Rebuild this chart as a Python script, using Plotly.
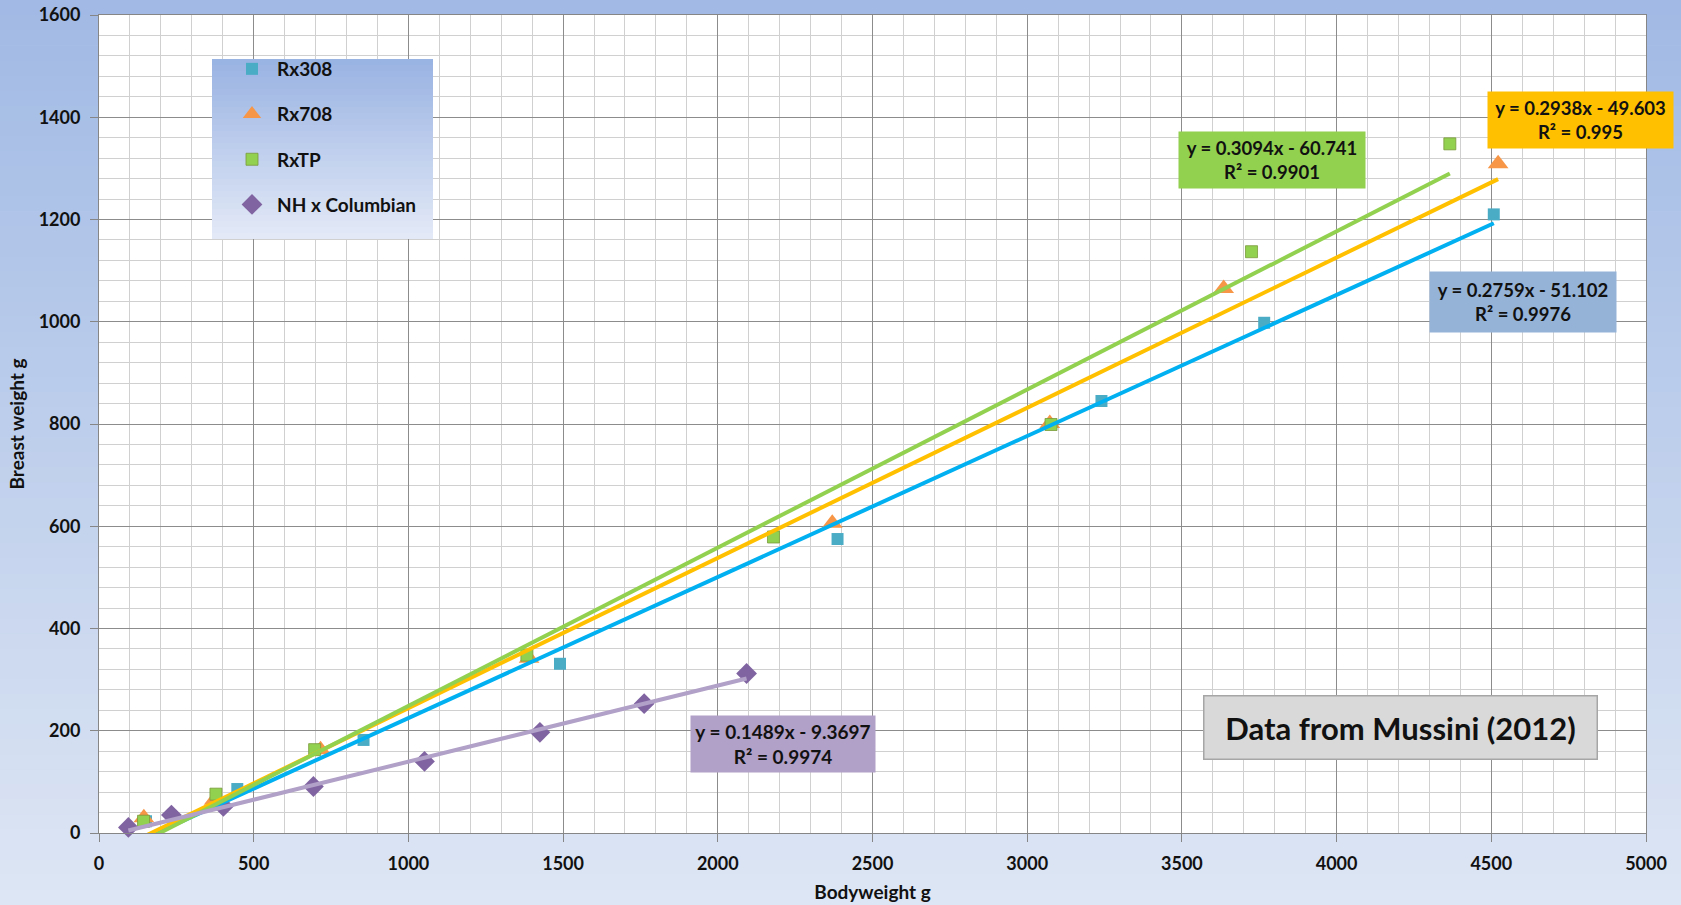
import plotly.graph_objects as go

# ---------------- data ----------------
rx308_x = [152, 447, 855, 1490, 2387, 3240, 3766, 4508]
rx308_y = [23, 86, 182, 331, 575, 845, 998, 1210]

rx708_x = [145, 372, 716, 1390, 2370, 3073, 3635, 4522]
rx708_y = [30, 64, 163, 342, 606, 801, 1065, 1309]

rxtp_x = [144, 378, 697, 1383, 2180, 3077, 3725, 4366]
rxtp_y = [23, 76, 163, 348, 579, 799, 1137, 1348]

nh_x = [95, 234, 402, 693, 1052, 1425, 1762, 2093]
nh_y = [11, 35, 52, 91, 140, 197, 253, 312]

series_names = ["Rx308", "Rx708", "RxTP", "NH x Columbian"]
slopes = [0.2759, 0.2938, 0.3094, 0.1489]
intercepts = [-51.102, -49.603, -60.741, -9.3697]
r2_values = ["0.9976", "0.995", "0.9901", "0.9974"]
eq_texts = ["y = 0.2759x - 51.102", "y = 0.2938x - 49.603",
            "y = 0.3094x - 60.741", "y = 0.1489x - 9.3697"]

x_ticks = [0, 500, 1000, 1500, 2000, 2500, 3000, 3500, 4000, 4500, 5000]
y_ticks = [0, 200, 400, 600, 800, 1000, 1200, 1400, 1600]

# ---------------- styling ----------------
FONT = "Lato"
marker_colors = ["#4BACC6", "#F79646", "#92D050", "#8064A2"]
marker_symbols = ["square", "triangle-up", "square", "diamond"]
marker_sizes = [12, 18, 12, 16]
line_colors = ["#00B0F0", "#FFC000", "#92D050", "#B1A0C7"]
box_colors = ["#95B3D7", "#FFC000", "#92D050", "#B1A0C7"]

xs = [rx308_x, rx708_x, rxtp_x, nh_x]
ys = [rx308_y, rx708_y, rxtp_y, nh_y]

fig = go.Figure()

for i in range(4):
    fig.add_trace(go.Scatter(
        x=xs[i], y=ys[i], mode="markers", name=series_names[i],
        legendgroup=series_names[i],
        marker=dict(symbol=marker_symbols[i], size=marker_sizes[i],
                    color=marker_colors[i],
                    line=dict(width=0.8 if i == 2 else 0,
                              color="#7A9A3A")),
        cliponaxis=False,
    ))

for i in range(4):
    x0, x1 = min(xs[i]), max(xs[i])
    fig.add_trace(go.Scatter(
        x=[x0, x1], y=[slopes[i] * x0 + intercepts[i], slopes[i] * x1 + intercepts[i]],
        mode="lines", line=dict(color=line_colors[i], width=4),
        showlegend=False, legendgroup=series_names[i], hoverinfo="skip",
    ))

# ---------------- background gradients ----------------
W, H = 1681, 905
L, R, T, B = 99, 35, 15, 72
pw, ph = W - L - R, H - T - B


def px_to_paper_x(px):
    return (px - L) / pw


def px_to_paper_y(py):
    return (H - B - py) / ph


def lerp(c0, c1, t):
    return "rgb(%d,%d,%d)" % tuple(round(a + (b - a) * t) for a, b in zip(c0, c1))


shapes = []
top_c, bot_c = (160, 185, 228), (222, 230, 244)
n = 60
for k in range(n):
    y0p = k * H / n
    y1p = (k + 1) * H / n
    shapes.append(dict(type="rect", xref="paper", yref="paper", layer="below",
                       x0=px_to_paper_x(-5), x1=px_to_paper_x(W + 5),
                       y0=px_to_paper_y(y1p + (5 if k == n - 1 else 0.6)),
                       y1=px_to_paper_y(y0p - (5 if k == 0 else 0)),
                       fillcolor=lerp(top_c, bot_c, (k + 0.5) / n),
                       line=dict(width=0)))
shapes.append(dict(type="rect", xref="paper", yref="paper", layer="below",
                   x0=0, x1=1, y0=0, y1=1, fillcolor="white", line=dict(width=0)))

# legend box gradient
lg_l, lg_r, lg_t, lg_b = 212, 433, 59, 239
lt_c, lb_c = (152, 178, 226), (228, 234, 247)
m = 30
for k in range(m):
    a = lg_t + k * (lg_b - lg_t) / m
    b = lg_t + (k + 1) * (lg_b - lg_t) / m
    shapes.append(dict(type="rect", xref="paper", yref="paper", layer="above",
                       x0=px_to_paper_x(lg_l), x1=px_to_paper_x(lg_r),
                       y0=px_to_paper_y(b + (0.6 if k < m - 1 else 0)), y1=px_to_paper_y(a),
                       fillcolor=lerp(lt_c, lb_c, (k + 0.5) / m),
                       line=dict(width=0)))

# ---------------- annotations (equation boxes) ----------------
annotations = []
# box geometry in pixels: (left, right, top, bottom)
box_px = [(1430, 1616, 272, 332), (1488, 1673, 92, 148),
          (1179, 1365, 132, 188), (691, 875, 716, 772)]
box_font = [18.5, 18.5, 18.5, 19]
for i in range(4):
    l, r, t, b = box_px[i]
    annotations.append(dict(
        xref="paper", yref="paper",
        x=px_to_paper_x((l + r) / 2), y=px_to_paper_y((t + b) / 2),
        xanchor="center", yanchor="middle",
        text="<b>%s<br>R² = %s</b>" % (eq_texts[i], r2_values[i]),
        showarrow=False, align="center",
        width=r - l, height=b - t, borderpad=0,
        bgcolor=box_colors[i],
        font=dict(family=FONT, size=box_font[i], color="#111111"),
    ))

annotations.append(dict(
    xref="paper", yref="paper",
    x=px_to_paper_x(1400), y=px_to_paper_y(727),
    xanchor="center", yanchor="middle",
    text="<b>Data from Mussini (2012)</b>", showarrow=False,
    width=392, height=62, borderpad=0,
    bgcolor="#D9D9D9", bordercolor="#A6A6A6", borderwidth=1.5,
    font=dict(family=FONT, size=31, color="#111111"),
))

axis_common = dict(
    showline=True, linecolor="#868686", linewidth=1, mirror=True,
    gridcolor="#8C8C8C", gridwidth=1,
    ticks="outside", ticklen=8, tickcolor="#868686",
    tickfont=dict(family=FONT, size=18, color="#111111", weight="bold"),
    zeroline=False, automargin=False,
)

fig.update_layout(
    width=W, height=H,
    margin=dict(l=L, r=R, t=T, b=B),
    paper_bgcolor="rgb(190,206,235)",
    plot_bgcolor="white",
    shapes=shapes,
    annotations=annotations,
    showlegend=True,
    legend=dict(
        x=px_to_paper_x(227), y=px_to_paper_y(50), xanchor="left", yanchor="top",
        bgcolor="rgba(0,0,0,0)", borderwidth=0, itemwidth=40,
        font=dict(family=FONT, size=19, color="#111111", weight="bold"),
        tracegroupgap=17.5, traceorder="grouped",
    ),
    xaxis=dict(
        range=[0, 5000], tickvals=x_ticks, ticktext=[str(v) for v in x_ticks],
        minor=dict(dtick=100, showgrid=True, gridcolor="#D0D0D0", gridwidth=1),
        ticklabelstandoff=6,
        title=dict(text="<b>Bodyweight g</b>", standoff=13,
                   font=dict(family=FONT, size=19, color="#111111")),
        **axis_common,
    ),
    yaxis=dict(
        range=[0, 1600], tickvals=y_ticks, ticktext=[str(v) for v in y_ticks],
        minor=dict(dtick=40, showgrid=True, gridcolor="#D0D0D0", gridwidth=1),
        ticklabelstandoff=6,
        title=dict(text="<b>Breast weight g</b>", standoff=8,
                   font=dict(family=FONT, size=19, color="#111111")),
        **axis_common,
    ),
)

fig.write_html("out.html", config={"displayModeBar": False},
               post_script="document.body.style.margin='0px';document.body.style.overflow='hidden';")
